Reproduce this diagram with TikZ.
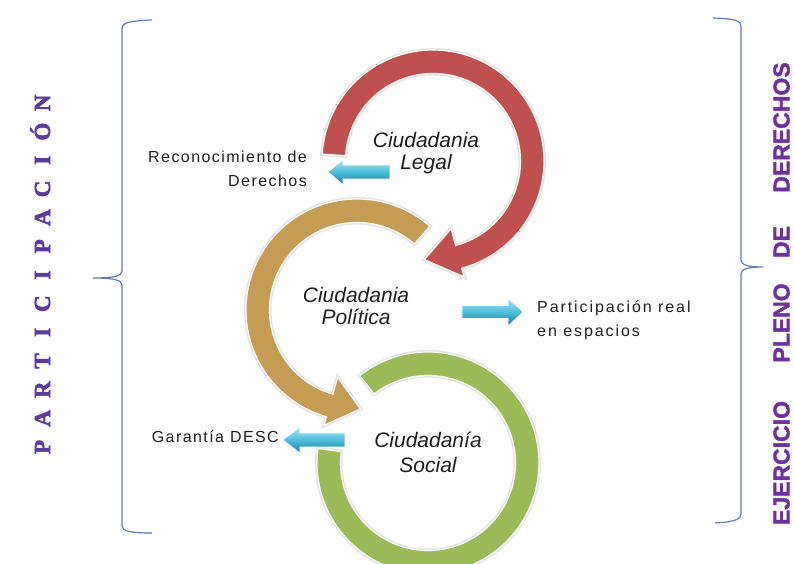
\documentclass[tikz,border=0pt]{standalone}
\usepackage{fontspec}
\setmainfont{Liberation Sans}
\newfontfamily\lblfont[LetterSpace=9]{Liberation Sans}
\newfontfamily\lblfontw[LetterSpace=12]{Liberation Sans}
\newfontfamily\serifbold[BoldFeatures={FakeBold=2.5}]{Liberation Serif}
\newfontfamily\heavyfont[BoldFeatures={FakeBold=1.8}]{Liberation Sans}
\usetikzlibrary{calc}
\definecolor{cred}{RGB}{192,80,77}
\definecolor{cgold}{RGB}{196,156,84}
\definecolor{cgreen}{RGB}{155,187,89}
\definecolor{bluetop}{RGB}{175,232,245}
\definecolor{bluemid}{RGB}{75,190,218}
\definecolor{bluebot}{RGB}{38,125,160}
\definecolor{bracecol}{RGB}{95,125,175}
\definecolor{purpleL}{RGB}{92,58,158}
\definecolor{purpleR}{RGB}{112,48,160}
\definecolor{txt}{RGB}{30,30,30}
\begin{document}
\begin{tikzpicture}[x=1pt,y=1pt,
  ring/.style={draw=white, line width=1.2pt,
    preaction={draw=black!35, line width=4pt, opacity=0.3}},
  barrow/.style={top color=bluetop, bottom color=bluebot, middle color=bluemid,
    draw=white, line width=0.6pt},
  lbl/.style={inner sep=0pt, text=txt, font=\lblfont\fontsize{16}{24}\selectfont},
  ciud/.style={inner sep=0pt, text=txt, align=center, font=\itshape\fontsize{21}{22}\selectfont},
  partl/.style={rotate=90, inner sep=0pt, text height=16pt, text depth=0pt,
    text=purpleL, font=\serifbold\bfseries\fontsize{23}{23}\selectfont},
  ejer/.style={rotate=90, inner sep=0pt, text height=17pt, text depth=0pt,
    text=purpleR, font=\heavyfont\bfseries\fontsize{23}{23}\selectfont},
  bracestyle/.style={draw=bracecol, line width=1.2pt}]
\useasboundingbox (0,0) rectangle (795,564);

% centres of the three rings
\coordinate (R) at (433,403);
\coordinate (G) at (357,254);
\coordinate (S) at (428,101);

% green ring (Social)
\path[ring, fill=cgreen] ($(S)+(172.5:111)$) arc[start angle=172.5, end angle=488, radius=111]
  -- ($(S)+(488:87.5)$) arc[start angle=488, end angle=172.5, radius=87.5] -- cycle;

% gold arrow (Politica)
\path[ring, fill=cgold] ($(G)+(49:111)$) arc[start angle=49, end angle=254, radius=111]
  -- ($(G)+(254:120)$) -- ($(G)+(272:99)$) -- ($(G)+(254:70)$)
  -- ($(G)+(254:87.5)$) arc[start angle=254, end angle=49, radius=87.5] -- cycle;

% red arrow (Legal)
\path[ring, fill=cred] ($(R)+(176.5:111)$) arc[start angle=176.5, end angle=-75, radius=111]
  -- ($(R)+(-75:120)$) -- ($(R)+(-95:99)$) -- ($(R)+(-75:70)$)
  -- ($(R)+(-75:87.5)$) arc[start angle=-75, end angle=176.5, radius=87.5] -- cycle;

% blue block arrows
\path[barrow] (328,392) -- (343,404.5) -- (343,399) -- (390,399) -- (390,385)
  -- (343,385) -- (343,379.5) -- cycle;
\path[barrow] (523,252) -- (508,266) -- (508,258.5) -- (462,258.5) -- (462,245.5)
  -- (508,245.5) -- (508,238) -- cycle;
\path[barrow] (283,124) -- (300,137) -- (300,131) -- (345,131) -- (345,117)
  -- (300,117) -- (300,111) -- cycle;

% texts in the rings
\node[ciud] (legal) at (426,411) {Ciudadania\\Legal};
\node[ciud] (politica) at (356,258) {Ciudadania\\Política};
\node[ciud, font=\itshape\fontsize{21}{25}\selectfont] (social) at (428,112) {Ciudadanía\\Social};

% side labels
\node[lbl, anchor=east, align=right] (rec) at (307,395) {Reconocimiento de\\Derechos};
\node[lbl, anchor=west, align=left, font=\lblfontw\fontsize{16}{24}\selectfont] (part) at (537,244) {Participación real\\en espacios};
\node[lbl, anchor=east] (desc) at (279,127) {Garantía DESC};

% braces
\draw[bracestyle] (152,544) .. controls (130,543) and (122,542) .. (122,535)
  -- (122,293) .. controls (122,288) and (114,286) .. (93,286)
  .. controls (114,286) and (122,284) .. (122,279)
  -- (122,38) .. controls (122,33) and (130,31) .. (152,31);
\draw[bracestyle] (713,546) .. controls (735,545) and (741,544) .. (741,537)
  -- (741,304) .. controls (741,299) and (748,297) .. (763,297)
  .. controls (748,297) and (741,295) .. (741,290)
  -- (741,50) .. controls (741,45) and (735,42) .. (715,41);

% vertical titles
\foreach \ch [count=\i from 0] in {P,A,R,T,I,C,I,P,A,C,I,Ó,N}
  \node[partl] (p\i) at (42,{117+\i*28.67}) {\ch};
\node[ejer] (w1) at (781,101) {EJERCICIO};
\node[ejer] (w2) at (781,241) {PLENO};
\node[ejer] (w3) at (781,322) {DE};
\node[ejer] (w4) at (781,436.5) {DERECHOS};
\end{tikzpicture}
\end{document}
